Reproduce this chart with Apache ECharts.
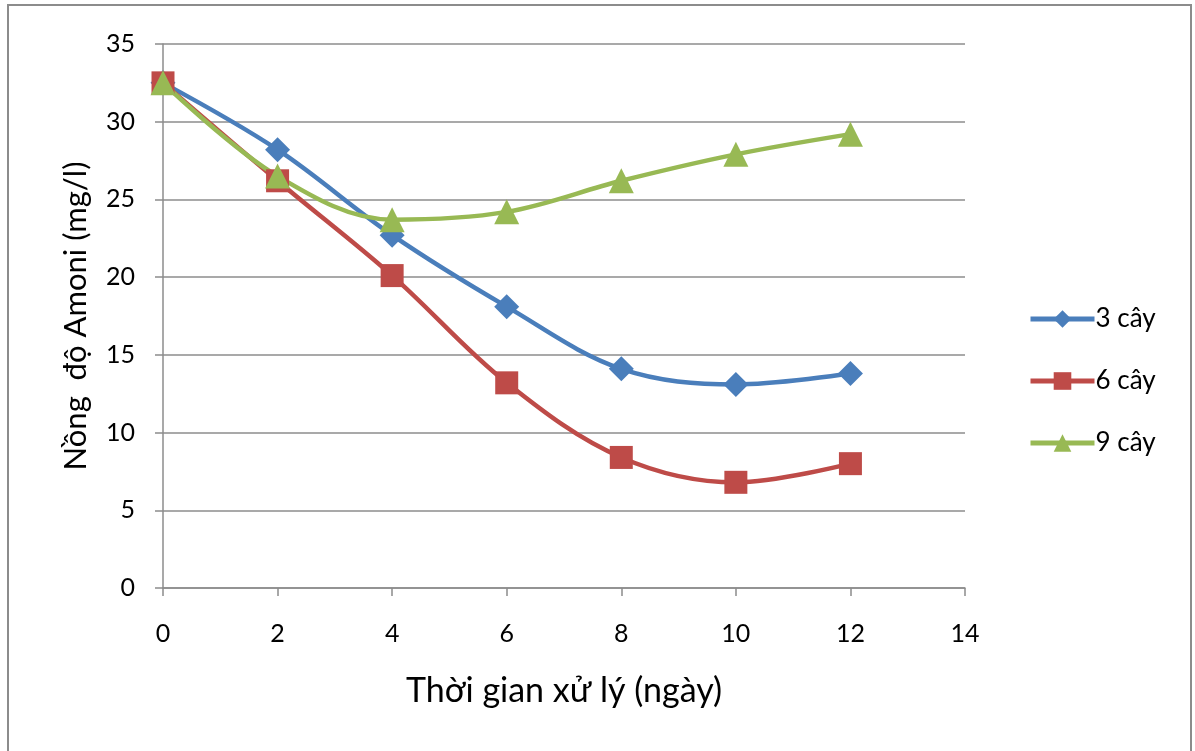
<!DOCTYPE html>
<html>
<head>
<meta charset="utf-8">
<script src="https://cdn.jsdelivr.net/npm/echarts@6/dist/echarts.min.js"></script>
<style>
  html, body { margin: 0; padding: 0; background: #fff; }
  #chart { width: 1195px; height: 751px; }
</style>
</head>
<body>
<div id="chart"></div>
<script>
// Ammonium concentration over treatment time for three plant densities
const days = [0, 2, 4, 6, 8, 10, 12];
const cay3 = [32.5, 28.2, 22.7, 18.1, 14.1, 13.1, 13.8];
const cay6 = [32.5, 26.2, 20.1, 13.2, 8.4, 6.8, 8.0];
const cay9 = [32.5, 26.5, 23.7, 24.2, 26.2, 27.9, 29.2];
const seriesNames = ['3 cây', '6 cây', '9 cây'];
const yTicks = [0, 5, 10, 15, 20, 25, 30, 35];
const xTicks = [0, 2, 4, 6, 8, 10, 12, 14];

const font = 'Lato, "Open Sans", "Noto Sans", sans-serif';
const pair = (vals) => days.map((d, i) => [d, vals[i]]);

const chart = echarts.init(document.getElementById('chart'), null, { renderer: 'canvas' });

const mkSeries = (name, vals, color, symbol, size) => ({
  name,
  type: 'line',
  data: pair(vals),
  smooth: 0.35,
  symbol,
  symbolSize: size,
  lineStyle: { color, width: 4.5 },
  itemStyle: { color },
  z: 2
});

chart.setOption({
  backgroundColor: '#fff',
  animation: false,
  graphic: [{
    type: 'rect',
    shape: { x: 8, y: 5, width: 1183, height: 750 },
    style: { fill: 'none', stroke: '#8c8c8c', lineWidth: 2 },
    z: -1
  }],
  grid: { left: 163, right: 230, top: 44, bottom: 163, containLabel: false },
  legend: {
    orient: 'vertical',
    left: 1023,
    top: 301,
    itemWidth: 64,
    itemHeight: 22,
    itemGap: 36,
    textStyle: { fontFamily: font, fontSize: 26, color: '#000', padding: [0, 0, 0, -4] },
    lineStyle: { width: 5 },
    data: seriesNames
  },
  xAxis: {
    type: 'value',
    min: xTicks[0],
    max: xTicks[xTicks.length - 1],
    interval: 2,
    name: 'Thời gian xử lý (ngày)',
    nameLocation: 'middle',
    nameGap: 86,
    nameTextStyle: { fontFamily: font, fontSize: 34, color: '#000' },
    axisLine: { show: true, lineStyle: { color: '#8c8c8c', width: 1.5 } },
    axisTick: { show: true, length: 8, inside: false, lineStyle: { color: '#8c8c8c', width: 1.5 } },
    axisLabel: { fontFamily: font, fontSize: 25, color: '#000', margin: 33 },
    splitLine: { show: false }
  },
  yAxis: {
    type: 'value',
    min: yTicks[0],
    max: yTicks[yTicks.length - 1],
    interval: 5,
    name: 'Nồng  độ Amoni (mg/l)',
    nameLocation: 'middle',
    nameGap: 72,
    nameTextStyle: { fontFamily: font, fontSize: 31, color: '#000' },
    axisLine: { show: true, lineStyle: { color: '#8c8c8c', width: 1.5 } },
    axisTick: { show: true, length: 8, lineStyle: { color: '#8c8c8c', width: 1.5 } },
    axisLabel: { fontFamily: font, fontSize: 25, color: '#000', margin: 28 },
    splitLine: { show: true, lineStyle: { color: '#8c8c8c', width: 1.5 } }
  },
  series: [
    mkSeries(seriesNames[0], cay3, '#4a7ebb', 'diamond', 25),
    mkSeries(seriesNames[1], cay6, '#be4b48', 'rect', 23),
    mkSeries(seriesNames[2], cay9, '#98b954', 'triangle', 25)
  ]
});
</script>
</body>
</html>
